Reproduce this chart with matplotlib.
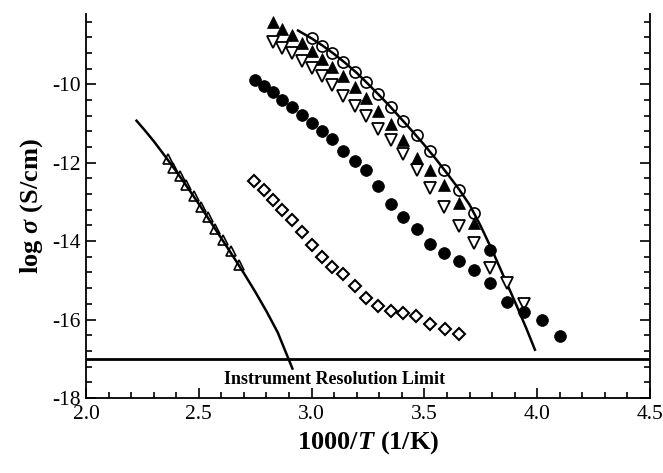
import numpy as np
import matplotlib
matplotlib.use("Agg")
import matplotlib.pyplot as plt

plt.rcParams['font.family'] = ['Liberation Serif', 'DejaVu Serif']
plt.rcParams['mathtext.fontset'] = 'custom'
plt.rcParams['mathtext.rm'] = 'Liberation Serif:bold'
plt.rcParams['mathtext.it'] = 'Liberation Serif:italic:bold'
plt.rcParams['mathtext.bf'] = 'Liberation Serif:bold'
plt.rcParams['axes.unicode_minus'] = False

# filled circles
fc_x = [2.751, 2.791, 2.827, 2.871, 2.913, 2.957, 3.000, 3.045, 3.092, 3.141, 3.192, 3.240, 3.294,
        3.350, 3.405, 3.465, 3.526, 3.589, 3.652, 3.721, 3.792, 3.865, 3.942, 4.020, 4.101, 3.792]
fc_y = [-9.89, -10.05, -10.21, -10.39, -10.57, -10.78, -10.98, -11.20, -11.40, -11.70, -11.96, -12.19, -12.59,
        -13.05, -13.39, -13.68, -14.07, -14.30, -14.51, -14.74, -15.07, -15.54, -15.82, -16.01, -16.41, -14.23]

# filled up triangles
ft_x = [2.827, 2.871, 2.913, 2.957, 3.000, 3.045, 3.092, 3.141, 3.192, 3.240, 3.294, 3.350,
        3.405, 3.465, 3.523, 3.589, 3.652, 3.719]
ft_y = [-8.41, -8.58, -8.75, -8.94, -9.14, -9.36, -9.57, -9.80, -10.08, -10.36, -10.68, -11.02,
        -11.42, -11.87, -12.19, -12.58, -13.02, -13.53]

# open down triangles
od_x = [2.827, 2.871, 2.913, 2.957, 3.000, 3.045, 3.092, 3.141, 3.192, 3.240, 3.294, 3.350,
        3.405, 3.465, 3.523, 3.589, 3.652, 3.719, 3.792, 3.865, 3.942]
od_y = [-8.93, -9.07, -9.21, -9.40, -9.59, -9.80, -10.02, -10.29, -10.55, -10.81, -11.13, -11.42,
        -11.77, -12.19, -12.64, -13.12, -13.62, -14.04, -14.68, -15.07, -15.60]

# open circles + fit
oc_x = [3.000, 3.045, 3.092, 3.141, 3.192, 3.240, 3.294, 3.350, 3.405, 3.465, 3.523, 3.589, 3.652, 3.721]
oc_y = [-8.83, -9.02, -9.20, -9.42, -9.68, -9.95, -10.25, -10.57, -10.93, -11.29, -11.70, -12.19, -12.69, -13.28]
ocfit_x = [2.94, 3.00, 3.05, 3.10, 3.15, 3.20, 3.25, 3.30, 3.35, 3.40, 3.45, 3.50, 3.55, 3.60,
           3.65, 3.70, 3.75, 3.80, 3.85, 3.90, 3.95, 3.99]
ocfit_y = [-8.63, -8.83, -9.02, -9.23, -9.46, -9.71, -9.99, -10.28, -10.58, -10.90, -11.22, -11.55, -11.90, -12.27,
           -12.65, -13.07, -13.62, -14.23, -14.88, -15.53, -16.20, -16.77]

# open diamonds
dm_x = [2.746, 2.791, 2.830, 2.871, 2.913, 2.957, 3.000, 3.045, 3.092, 3.139, 3.191, 3.240, 3.294,
        3.350, 3.405, 3.463, 3.527, 3.590, 3.652]
dm_y = [-12.47, -12.70, -12.94, -13.20, -13.47, -13.78, -14.09, -14.40, -14.66, -14.85, -15.14, -15.45, -15.65,
        -15.77, -15.83, -15.90, -16.11, -16.24, -16.36]

# small open up triangles + fit
st_x = [2.364, 2.386, 2.415, 2.445, 2.477, 2.508, 2.540, 2.573, 2.606, 2.644, 2.680]
st_y = [-11.90, -12.13, -12.34, -12.58, -12.85, -13.12, -13.38, -13.70, -13.98, -14.26, -14.60]
stfit_x = [2.224, 2.26, 2.30, 2.35, 2.40, 2.45, 2.50, 2.55, 2.60, 2.65, 2.70, 2.75, 2.80, 2.85, 2.915]
stfit_y = [-10.93, -11.17, -11.45, -11.83, -12.22, -12.63, -13.05, -13.49, -13.93, -14.37, -14.82, -15.29,
           -15.79, -16.33, -17.25]

limit = -17.0

fig = plt.figure(figsize=(6.63, 4.73), dpi=100)
ax = fig.add_axes([0.1297, 0.1586, 0.8507, 0.8125])

ax.axhline(limit, color='black', lw=2.0, zorder=1)
ax.plot(stfit_x, stfit_y, color='black', lw=1.8, zorder=2)
ax.plot(ocfit_x, ocfit_y, color='black', lw=1.8, zorder=2)

ax.plot(st_x, st_y, '^', ms=6.5, mfc='none', mec='black', mew=1.2, zorder=3)
ax.plot(dm_x, dm_y, 'D', ms=6.5, mfc='white', mec='black', mew=1.5, zorder=3)
ax.plot(od_x, od_y, 'v', ms=8, mfc='white', mec='black', mew=1.3, zorder=3)
ax.plot(ft_x, ft_y, '^', ms=8.5, mfc='black', mec='black', mew=0.5, zorder=4)
ax.plot(fc_x, fc_y, 'o', ms=8.5, mfc='black', mec='black', mew=0.5, zorder=4)
ax.plot(oc_x, oc_y, 'o', ms=8, mfc='none', mec='black', mew=1.2, zorder=5)

ax.text(3.10, -17.52, 'Instrument Resolution Limit', ha='center', va='center',
        fontsize=13, fontweight='bold')

ax.set_xlim(2.0, 4.5)
ax.set_ylim(-18, -8.2)
ax.set_xticks(np.arange(2.0, 4.51, 0.5))
ax.set_xticks(np.arange(2.0, 4.51, 0.1), minor=True)
ax.set_yticks(np.arange(-18, -9, 2))
ax.set_yticks(np.arange(-18, -8.1, 0.4), minor=True)
ax.xaxis.set_major_formatter(matplotlib.ticker.FormatStrFormatter('%.1f'))
ax.yaxis.set_major_formatter(matplotlib.ticker.FormatStrFormatter('%d'))

ax.spines['top'].set_visible(False)
for s in ['left', 'right', 'bottom']:
    ax.spines[s].set_linewidth(1.3)
ax.tick_params(which='both', direction='in', right=True, top=False, labelsize=15.5, width=1.2)
ax.tick_params(which='major', length=7)
ax.tick_params(which='minor', length=4)
ax.tick_params(axis='x', pad=5)
ax.tick_params(axis='y', pad=4)

ax.set_xlabel(r'$\mathbf{1000/}T\ \mathbf{(1/K)}$', fontsize=19, labelpad=4)
ax.set_ylabel(r'$\mathbf{log}\ \sigma\ \mathbf{(S/cm)}$', fontsize=19, labelpad=5)

fig.savefig('out.png', dpi=100)
